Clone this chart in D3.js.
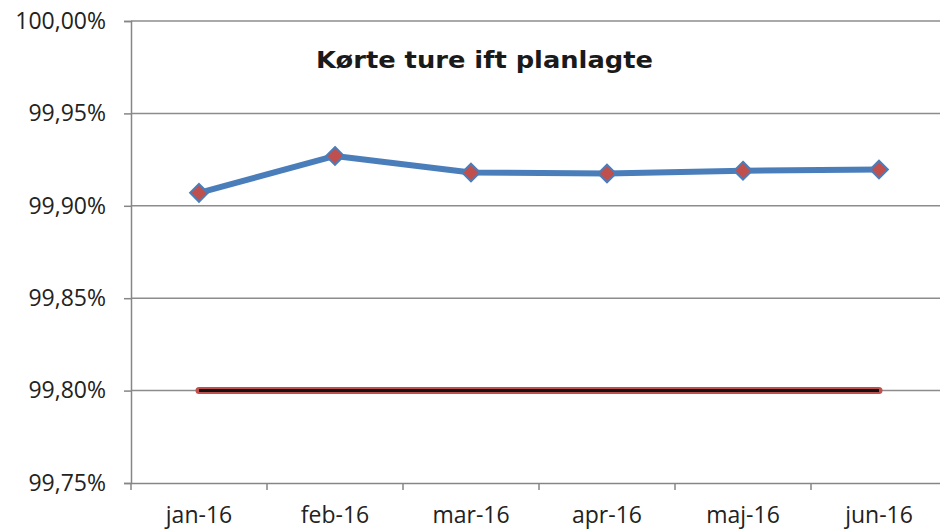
<!DOCTYPE html>
<html>
<head>
<meta charset="utf-8">
<script src="https://cdn.jsdelivr.net/npm/d3@7"></script>
<style>
html,body{margin:0;padding:0;background:#fff;}
svg{display:block;}
</style>
</head>
<body>
<svg id="chart" width="940" height="531"></svg>
<script>
const categories = ["jan-16","feb-16","mar-16","apr-16","maj-16","jun-16"];
const actualValues = [99.907, 99.927, 99.918, 99.9175, 99.919, 99.9196];
const targetValues = [99.80, 99.80, 99.80, 99.80, 99.80, 99.80];
const yTicks = [99.75, 99.80, 99.85, 99.90, 99.95, 100.00];
const title = "Kørte ture ift planlagte";

const svg = d3.select("#chart");
const plotLeft = 131, plotTop = 21, plotBottom = 483, plotRight = 947;

const x = d3.scaleBand().domain(categories).range([plotLeft, plotRight]);
const y = d3.scaleLinear().domain([99.75, 100.0]).range([plotBottom, plotTop]);
const fmt = v => d3.format(".2f")(v).replace(".", ",") + "%";

// gridlines
svg.append("g").selectAll("line").data(yTicks.slice(1)).join("line")
  .attr("x1", plotLeft).attr("x2", plotRight)
  .attr("y1", d => y(d)).attr("y2", d => y(d))
  .attr("stroke", "#8c8c8c").attr("stroke-width", 1.5);

// y axis
const yAxis = svg.append("g").attr("transform", `translate(${plotLeft},0)`)
  .call(d3.axisLeft(y).tickValues(yTicks).tickFormat(fmt).tickSize(7).tickPadding(18));
yAxis.select(".domain").attr("stroke", "#868686").attr("stroke-width", 1.5);
yAxis.selectAll(".tick line").attr("stroke", "#868686").attr("stroke-width", 1.5);
yAxis.selectAll("text").attr("font-family", "Open Sans").attr("font-size", 23).attr("fill", "#222");

// x axis
const xAxis = svg.append("g").attr("transform", `translate(0,${plotBottom})`)
  .call(d3.axisBottom(x).tickSize(0).tickPadding(24));
xAxis.select(".domain").attr("stroke", "#868686").attr("stroke-width", 1.5);
xAxis.selectAll("text").attr("font-family", "Open Sans").attr("font-size", 23).attr("fill", "#222");
// category boundary tick marks
svg.append("g").selectAll("line").data(categories).join("line")
  .attr("x1", d => x(d)).attr("x2", d => x(d))
  .attr("y1", plotBottom).attr("y2", plotBottom + 7)
  .attr("stroke", "#868686").attr("stroke-width", 1.5);

const cx = d => x(d) + x.bandwidth() / 2;

// target line
const tLine = d3.line().x((d, i) => cx(categories[i])).y(d => y(d));
svg.append("path").datum(targetValues).attr("d", tLine)
  .attr("fill", "none").attr("stroke", "#c0504d").attr("stroke-width", 7).attr("stroke-linecap", "round");
svg.append("path").datum(targetValues).attr("d", tLine)
  .attr("fill", "none").attr("stroke", "#111").attr("stroke-width", 3);

// actual line
svg.append("path").datum(actualValues).attr("d", tLine)
  .attr("fill", "none").attr("stroke", "#4a7ebb").attr("stroke-width", 6).attr("stroke-linejoin", "round");

// markers
const diamond = d3.symbol().type(d3.symbolDiamond2).size(200);
svg.append("g").selectAll("path").data(actualValues).join("path")
  .attr("d", diamond)
  .attr("transform", (d, i) => `translate(${cx(categories[i])},${y(d)})`)
  .attr("fill", "#c0504d").attr("stroke", "#4a7ebb").attr("stroke-width", 2);

// title
svg.append("text").attr("x", 484.5).attr("y", 68).attr("text-anchor", "middle")
  .attr("font-family", "DejaVu Sans").attr("font-weight", "bold").attr("font-size", 23)
  .attr("textLength", 337).attr("lengthAdjust", "spacingAndGlyphs")
  .attr("fill", "#1a1a1a").text(title);
</script>
</body>
</html>
